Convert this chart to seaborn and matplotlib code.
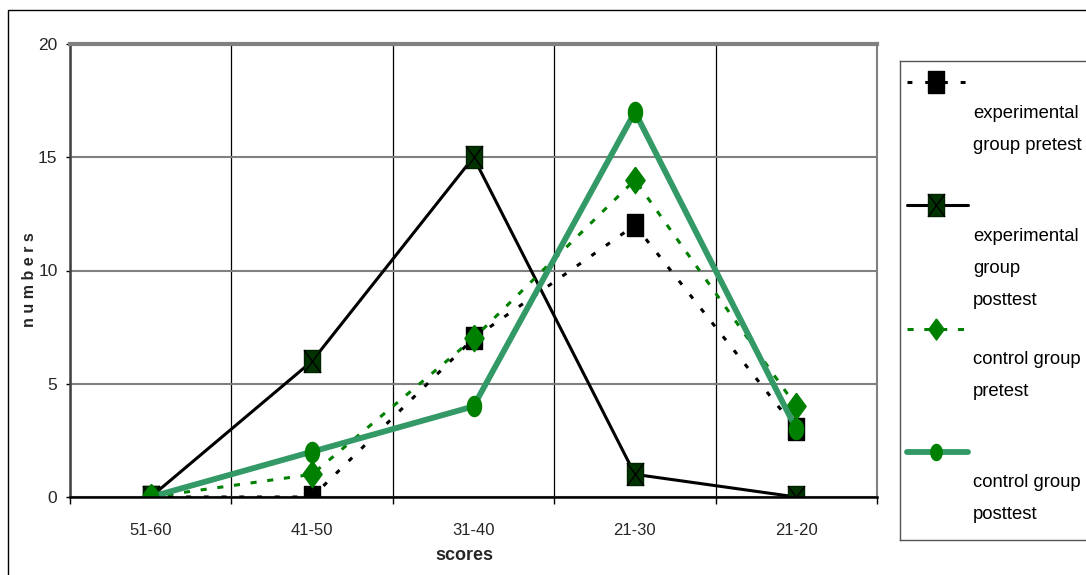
import numpy as np
import matplotlib
matplotlib.use("Agg")
import matplotlib.pyplot as plt
import seaborn as sns
from matplotlib.path import Path
from matplotlib.patches import Rectangle

# chart data
categories = ["51-60", "41-50", "31-40", "21-30", "21-20"]
exp_pretest = [0, 0, 7, 12, 3]
exp_posttest = [0, 6, 15, 1, 0]
ctrl_pretest = [0, 1, 7, 14, 4]
ctrl_posttest = [0, 2, 4, 17, 3]
series_labels = ["experimental\ngroup pretest",
                 "experimental\ngroup\nposttest",
                 "control group\npretest",
                 "control group\nposttest"]
y_ticks = [0, 5, 10, 15, 20]

sns.set_style("white")
plt.rcParams["font.family"] = ["Liberation Sans", "DejaVu Sans"]

# markers are a bit taller than wide in the original
rect = [(-0.37, -0.5), (0.37, -0.5), (0.37, 0.5), (-0.37, 0.5), (-0.37, -0.5)]
diamond = [(0, 0.5), (0.365, 0), (0, -0.5), (-0.365, 0), (0, 0.5)]
t = np.linspace(0, 2 * np.pi, 41)
ellipse = list(zip(0.35 * np.cos(t), 0.5 * np.sin(t)))
cross = Path([(-0.37, -0.5), (0.37, 0.5), (-0.37, 0.5), (0.37, -0.5)],
             [Path.MOVETO, Path.LINETO, Path.MOVETO, Path.LINETO])

styles = [
    dict(color="black", linewidth=2.2, linestyle=(0, (1.6, 4.2)), marker=rect,
         markersize=16.5, markerfacecolor="black", markeredgecolor="black"),
    dict(color="black", linewidth=2.2, linestyle="-", marker=rect,
         markersize=16.5, markerfacecolor="#003300", markeredgecolor="#002200"),
    dict(color="#008000", linewidth=2.2, linestyle=(0, (2, 3.5)), marker=diamond,
         markersize=19, markerfacecolor="#008000", markeredgecolor="#008000"),
    dict(color="#339966", linewidth=4.2, linestyle="-", marker=ellipse,
         markersize=14.5, markerfacecolor="#008000", markeredgecolor="#008000"),
]
series = [exp_pretest, exp_posttest, ctrl_pretest, ctrl_posttest]

fig = plt.figure(figsize=(10.86, 5.75), dpi=100)
ax = fig.add_axes([70 / 1086, 78 / 575, 807 / 1086, 453 / 575])
x = np.arange(len(categories))

for i, (vals, st) in enumerate(zip(series, styles)):
    sns.lineplot(x=x, y=vals, ax=ax, markeredgewidth=1, **st)
    if i == 1:
        # the X drawn inside the posttest squares
        sns.lineplot(x=x, y=vals, ax=ax, marker=cross, linestyle="none",
                     markersize=16.5, color="black", markeredgecolor="black",
                     markeredgewidth=1)

ax.set_xlim(-0.5, len(categories) - 0.5)
ax.set_ylim(0, 20)
ax.set_xticks(np.arange(-0.5, len(categories), 1))
ax.set_xticklabels([])
ax.set_xticks(x, minor=True)
ax.set_xticklabels(categories, minor=True)
ax.tick_params(axis="x", which="major", length=5, width=1, direction="out", color="black", bottom=True)
ax.tick_params(axis="x", which="minor", length=0, labelsize=12, pad=19)
ax.set_yticks(y_ticks)
ax.tick_params(axis="y", length=3, width=1, direction="out", color="black", left=True, labelsize=12.5, pad=6)
ax.grid(axis="y", color="#808080", linewidth=1.5)
ax.grid(axis="x", which="major", color="black", linewidth=0.9)

ax.spines["top"].set_color("#808080")
ax.spines["top"].set_linewidth(3)
ax.spines["right"].set_color("#808080")
ax.spines["right"].set_linewidth(1.5)
ax.spines["left"].set_color("#404040")
ax.spines["left"].set_linewidth(1.8)
ax.spines["bottom"].set_color("black")
ax.spines["bottom"].set_linewidth(1.8)

ax.set_xlabel("scores", fontsize=13, fontweight="bold")
ax.xaxis.set_label_coords((464 - 70) / 807, -58 / 453)
ax.xaxis.label.set_va("center")
ax.set_ylabel("n u m b e r s", fontsize=11.5, fontweight="bold", va="center")
ax.yaxis.set_label_coords((30 - 70) / 807, 0.48)

# outer chart border
fig.add_artist(Rectangle((8 / 1086, -0.1), 1.2, 1.1 - 10 / 575, fill=False,
                         edgecolor="black", linewidth=1, transform=fig.transFigure))

# legend drawn in its own box, handle above each label like the original
lax = fig.add_axes([900 / 1086, 35 / 575, 200 / 1086, 479 / 575])
lax.set_xlim(900, 1100)
lax.set_ylim(540, 61)
lax.set_xticks([])
lax.set_yticks([])
for side in ["left", "top", "bottom"]:
    lax.spines[side].set_color("#555555")
    lax.spines[side].set_linewidth(1)
lax.spines["right"].set_visible(False)

for i, (label, st) in enumerate(zip(series_labels, styles)):
    yh = 82 + 123.3 * i
    line_st = {k: v for k, v in st.items() if not k.startswith("marker")}
    lax.plot([907, 968], [yh, yh], **line_st)
    mk = {k: v for k, v in st.items() if k.startswith("marker")}
    if i >= 2:
        mk["markersize"] = st["markersize"] * 0.8
    lax.plot([936], [yh], linestyle="none", markeredgewidth=1, **mk)
    if i == 1:
        lax.plot([936], [yh], linestyle="none", marker=cross, markersize=16.5,
                 markeredgecolor="black", markeredgewidth=1)
    for j, part in enumerate(label.split("\n")):
        lax.text(973, yh + 31 + 32 * j, part, fontsize=13.3, va="center", ha="left", color="black")

fig.savefig("out.png", dpi=100)
